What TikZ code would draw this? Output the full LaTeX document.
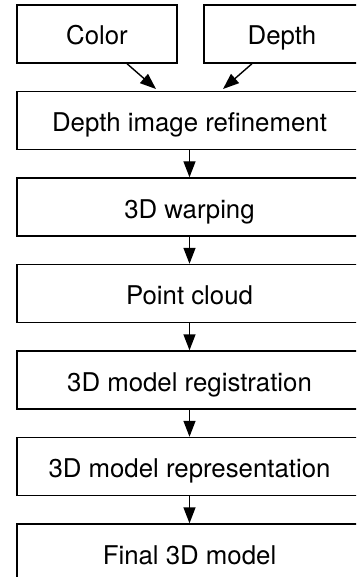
\documentclass[tikz,border=0pt]{standalone}
\usepackage{fontspec}
\setmainfont{TeX Gyre Heros}
\usetikzlibrary{arrows.meta}
\begin{document}
\begin{tikzpicture}[x=1pt,y=-1pt,
  box/.style={draw=black,line width=1.4pt,rectangle,minimum height=58pt,
    inner sep=0pt,text height=22pt,text depth=0pt,
    font=\fontsize{25.8}{30}\selectfont},
  wide/.style={box,minimum width=345pt},
  flow/.style={line width=1.4pt,-{Triangle[length=16pt,width=12pt]}}]
  \clip (0,0) rectangle (356,577);
  \useasboundingbox (0,0) rectangle (356,577);
  % input boxes
  \node[box,minimum width=160pt] (color) at (97,34) {Color};
  \node[box,minimum width=156pt] (depth) at (282,34) {Depth};
  % processing chain
  \node[wide] (refine) at (189.5,120.5) {Depth image refinement};
  \node[wide] (warp)   at (189.5,207) {3D warping};
  \node[wide] (cloud)  at (189.5,293.5) {Point cloud};
  \node[wide] (reg)    at (189.5,380) {3D model registration};
  \node[wide] (repr)   at (189.5,466.5) {3D model representation};
  \node[wide] (final)  at (189.5,553) {Final 3D model};
  % connectors
  \coordinate (c1) at (156,89);
  \coordinate (d1) at (223,89);
  \draw[flow] (color.south -| 127,0) -- (c1);
  \draw[flow] (depth.south -| 252,0) -- (d1);
  \draw[flow] (refine) -- (warp);
  \draw[flow] (warp) -- (cloud);
  \draw[flow] (cloud) -- (reg);
  \draw[flow] (reg) -- (repr);
  \draw[flow] (repr) -- (final);
\end{tikzpicture}
\end{document}
